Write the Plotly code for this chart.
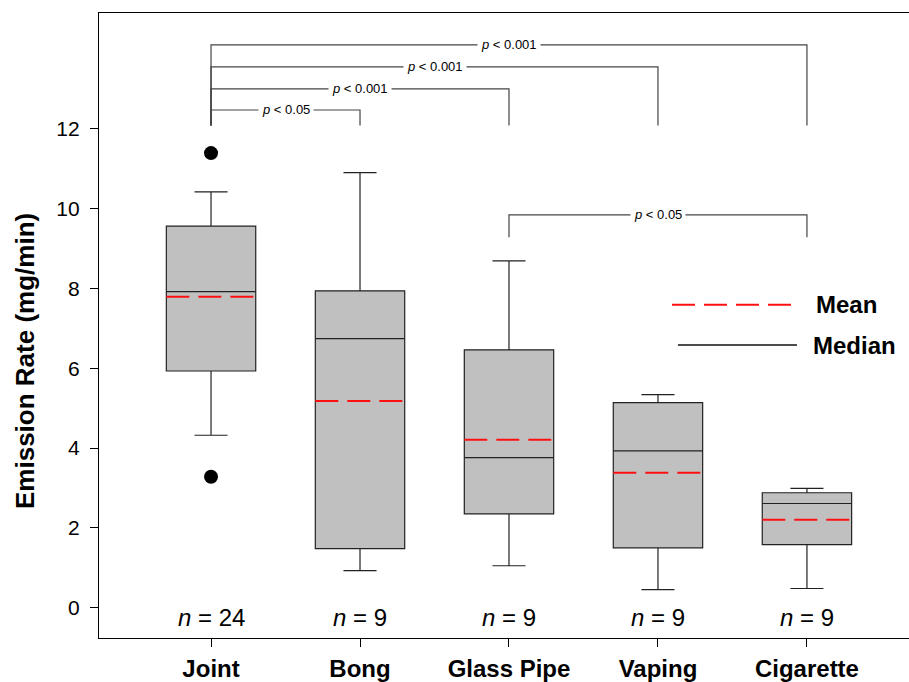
import plotly.graph_objects as go

categories = ["Joint", "Bong", "Glass Pipe", "Vaping", "Cigarette"]
n_counts = [24, 9, 9, 9, 9]
lower_whisker = [4.32, 0.93, 1.05, 0.45, 0.48]
q1 = [5.93, 1.48, 2.35, 1.50, 1.58]
median = [7.92, 6.74, 3.76, 3.93, 2.61]
q3 = [9.56, 7.94, 6.46, 5.14, 2.88]
upper_whisker = [10.42, 10.90, 8.69, 5.34, 2.99]
mean = [7.79, 5.18, 4.21, 3.38, 2.20]
outlier_cat = [0, 0]
outlier_val = [11.39, 3.28]

# significance brackets: (left category index, right category index, bracket height, drop-to height, label)
brackets = [
    (0, 4, 14.10, 12.08, "<i>p</i> < 0.001"),
    (0, 3, 13.55, 12.08, "<i>p</i> < 0.001"),
    (0, 2, 13.00, 12.08, "<i>p</i> < 0.001"),
    (0, 1, 12.47, 12.08, "<i>p</i> < 0.05"),
    (2, 4, 9.84, 9.28, "<i>p</i> < 0.05"),
]

FONT = "Liberation Sans, Arial, sans-serif"
BOXW = 0.6

fig = go.Figure()
xs = list(range(len(categories)))

fig.add_trace(go.Box(
    x=xs, q1=q1, median=median, q3=q3,
    lowerfence=lower_whisker, upperfence=upper_whisker,
    width=BOXW, whiskerwidth=0.37,
    fillcolor="#c0c0c0", line=dict(color="#222222", width=1.2),
    boxpoints=False, showlegend=False, hoverinfo="skip",
))

for i, m in enumerate(mean):
    fig.add_trace(go.Scatter(
        x=[i - BOXW / 2, i + BOXW / 2], y=[m, m], mode="lines",
        line=dict(color="#ff1010", width=2, dash="23px,9px"),
        showlegend=False, hoverinfo="skip",
    ))

fig.add_trace(go.Scatter(
    x=outlier_cat, y=outlier_val, mode="markers",
    marker=dict(color="black", size=14), showlegend=False, hoverinfo="skip",
))

# legend (drawn manually)
fig.add_trace(go.Scatter(x=[3.094, 3.899], y=[7.59, 7.59], mode="lines",
                         line=dict(color="#ff1010", width=2, dash="23px,9px"),
                         showlegend=False, hoverinfo="skip"))
fig.add_trace(go.Scatter(x=[3.134, 3.933], y=[6.58, 6.58], mode="lines",
                         line=dict(color="#111111", width=1.5),
                         showlegend=False, hoverinfo="skip"))
fig.add_annotation(x=4.05, y=7.59, text="<b>Mean</b>", showarrow=False, xanchor="left",
                   font=dict(family=FONT, size=24, color="black"))
fig.add_annotation(x=4.03, y=6.58, text="<b>Median</b>", showarrow=False, xanchor="left",
                   font=dict(family=FONT, size=24, color="black"))

for (a, b, h, d, lab) in brackets:
    path = f"M {a},{d} L {a},{h} L {b},{h} L {b},{d}"
    fig.add_shape(type="path", path=path, line=dict(color="#444444", width=1.2), layer="above")
    fig.add_annotation(x=(a + b) / 2, y=h, text=lab, showarrow=False,
                       bgcolor="white", borderpad=3,
                       font=dict(family=FONT, size=13, color="black"))

for i, n in enumerate(n_counts):
    fig.add_annotation(x=i, y=-0.25, text=f"<i>n</i> = {n}", showarrow=False,
                       font=dict(family=FONT, size=24, color="black"))

# y-axis title (placed as annotation to match vertical offset of the original)
fig.add_annotation(xref="paper", x=-0.0914, y=6.18, text="<b>Emission Rate (mg/min)</b>",
                   textangle=-90, showarrow=False, xanchor="center", yanchor="middle",
                   font=dict(family=FONT, size=26, color="black"))

fig.update_layout(
    width=909, height=682,
    margin=dict(l=99, r=0, t=13, b=44),
    plot_bgcolor="white", paper_bgcolor="white",
    font=dict(family=FONT, color="black"),
)
fig.update_xaxes(
    range=[-0.752, 4.685], tickmode="array", tickvals=xs,
    ticktext=[f"<b>{c}</b>" for c in categories],
    tickfont=dict(family=FONT, size=24, color="black"),
    ticklabelstandoff=1, automargin=False,
    showline=True, linecolor="black", linewidth=1.2, mirror=True,
    ticks="outside", ticklen=8, tickcolor="black", tickwidth=1,
    showgrid=False, zeroline=False,
)
fig.update_yaxes(
    range=[-0.76, 14.9], tickmode="array", tickvals=[0, 2, 4, 6, 8, 10, 12],
    tickfont=dict(family=FONT, size=21, color="black"),
    ticklabelstandoff=6,
    showline=True, linecolor="black", linewidth=1.2, automargin=False,
    ticks="outside", ticklen=8, tickcolor="black", tickwidth=1,
    showgrid=False, zeroline=False,
)

fig.write_html(
    "out.html",
    config={"displayModeBar": False},
    post_script="document.body.style.margin='0';document.body.style.overflow='hidden';"
                "document.documentElement.style.overflow='hidden';",
)
